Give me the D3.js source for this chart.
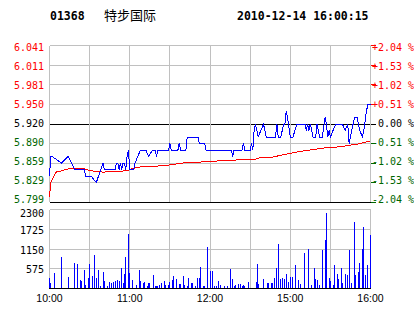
<!DOCTYPE html>
<html>
<head>
<meta charset="utf-8">
<script src="https://cdn.jsdelivr.net/npm/d3@7"></script>
<style>
	body { margin: 0; background: #fff; }
	svg text { font-family: "DejaVu Sans Mono", monospace; font-size: 10px; }
</style>
</head>
<body>
<svg id="chartSvg" width="414" height="314"></svg>
<script>
'use strict';

var stockCode = '01368'
var stockName = '特步国际'
var stamp = '2010-12-14 16:00:15'
var preClose = 5.920

var priceLabels = ['6.041', '6.011', '5.981', '5.950', '5.920', '5.890', '5.859', '5.829', '5.799']
var pctLabels = ['+2.04 %', '+1.53 %', '+1.02 %', '+0.51 %', ' 0.00 %', '-0.51 %', '-1.02 %', '-1.53 %', '-2.04 %']
var volTicks = [2300, 1725, 1150, 575]
var timeLabels = ['10:00', '11:00', '12:00', '15:00', '16:00']
var timeLabelMin = [0, 60, 120, 180, 240]

// [minute, price]
var pricePts = [[0, 5.84], [1, 5.87], [2, 5.87], [9, 5.86], [14, 5.87], [19, 5.85], [26, 5.85], [27, 5.84], [31, 5.84],
	[35, 5.83], [40, 5.86], [41, 5.85], [49, 5.85], [50, 5.86], [51, 5.86], [52, 5.85], [53, 5.86], [54, 5.85], [55, 5.86],
	[56, 5.86], [57, 5.85], [58, 5.87], [59, 5.88], [60, 5.85], [63, 5.85], [64, 5.86], [68, 5.88], [72, 5.88], [74, 5.87],
	[77, 5.88], [79, 5.88], [80, 5.87], [81, 5.88], [89, 5.88], [90, 5.89], [91, 5.88], [96, 5.88], [97, 5.89], [98, 5.88],
	[102, 5.88], [103, 5.90], [111, 5.90], [112, 5.89], [116, 5.89], [117, 5.88], [136, 5.88], [137, 5.87], [138, 5.88],
	[144, 5.88], [145, 5.89], [146, 5.88], [150, 5.88], [151, 5.89], [152, 5.88], [153, 5.91], [154, 5.92], [156, 5.90],
	[158, 5.91], [160, 5.92], [162, 5.90], [169, 5.90], [170, 5.92], [171, 5.90], [173, 5.90], [175, 5.92], [176, 5.92],
	[177, 5.94], [178, 5.93], [180, 5.90], [182, 5.90], [185, 5.92], [191, 5.92], [192, 5.91], [193, 5.92], [194, 5.91],
	[195, 5.92], [197, 5.90], [199, 5.90], [200, 5.92], [202, 5.90], [204, 5.90], [206, 5.93], [207, 5.92], [208, 5.90],
	[209, 5.91], [210, 5.90], [212, 5.91], [214, 5.92], [219, 5.92], [221, 5.91], [223, 5.92], [224, 5.89], [226, 5.91],
	[227, 5.92], [228, 5.93], [230, 5.93], [232, 5.91], [234, 5.90], [235, 5.91], [237, 5.94], [238, 5.95], [240, 5.95]]

// [minute, average price]
var avgPts = [[0, 5.808], [1, 5.83], [3, 5.839], [5, 5.846], [9, 5.848], [14, 5.851], [26, 5.851], [31, 5.848], [40, 5.846],
	[49, 5.847], [58, 5.848], [61, 5.851], [68, 5.854], [79, 5.855], [90, 5.857], [100, 5.86], [117, 5.862], [133, 5.864],
	[154, 5.866], [157, 5.868], [165, 5.868], [173, 5.872], [188, 5.878], [205, 5.883], [217, 5.885], [230, 5.889],
	[238, 5.893], [240, 5.894]]

// [minute, volume]
var volPts = [[0, 310], [1, 165], [4, 456], [9, 922], [14, 330], [19, 747], [21, 718], [23, 243], [24, 223], [26, 534],
	[27, 107], [29, 310], [30, 718], [32, 369], [34, 970], [35, 310], [37, 534], [38, 78], [40, 485], [41, 223], [43, 78],
	[45, 194], [46, 165], [48, 175], [49, 214], [51, 243], [52, 223], [54, 592], [55, 165], [56, 417], [57, 912], [59, 1582],
	[60, 456], [62, 243], [65, 97], [67, 534], [68, 214], [70, 155], [71, 184], [73, 68], [74, 146], [75, 146], [78, 388],
	[79, 68], [80, 68], [81, 87], [82, 107], [84, 155], [86, 214], [87, 97], [89, 97], [90, 194], [92, 243], [93, 359],
	[95, 272], [97, 126], [98, 126], [100, 359], [101, 97], [103, 68], [104, 301], [106, 146], [107, 165], [109, 87],
	[111, 301], [112, 310], [113, 621], [115, 68], [116, 68], [118, 1203], [120, 505], [122, 505], [123, 68], [125, 68],
	[126, 214], [128, 97], [131, 68], [133, 68], [135, 563], [137, 272], [138, 78], [139, 97], [141, 126], [143, 126],
	[144, 68], [145, 97], [146, 68], [149, 184], [155, 184], [155.5, 718], [156, 126], [160, 272], [163, 146], [164, 165],
	[166, 165], [167, 146], [168, 301], [169.5, 592], [171, 1300], [173, 281], [174, 301], [176, 272], [177, 417],
	[179, 194], [180, 330], [182, 330], [184, 679], [186, 243], [188, 126], [191, 1029], [194, 1145], [196, 97], [198, 592],
	[199, 272], [200, 243], [202, 97], [204, 1116], [206, 1407], [207, 2193], [209, 301], [210, 223], [212, 97], [213, 679],
	[215, 417], [216, 272], [218, 592], [219, 165], [221, 417], [223, 388], [224, 1116], [226, 165], [228, 1931], [229, 388],
	[231, 485], [232, 738], [234, 1145], [235, 1785], [236, 388], [238, 679], [240, 1553]]

var svg = d3.select('#chartSvg')
var gridColor = '#c0c0c0', upColor = '#ff0000', downColor = '#006600'

var x = d3.scaleLinear().domain([0, 240]).range([49.5, 370.5])
var y = d3.scaleLinear().domain([preClose * (1 - 0.0204), preClose * (1 + 0.0204)]).range([202.5, 45.5])
var yLab = d3.scaleLinear().domain([8, 0]).range([199.5, 47.5])
var yv = d3.scaleLinear().domain([0, 2300]).range([288.5, 209.5])

function px(v) { return Math.floor(v) + 0.5 }
function levelColor(i) { return i < 4 ? upColor : (i == 4 ? '#000' : downColor) }

// header
svg.append('text').attr('x', 50).attr('y', 20).style('font-size', '11.5px').style('font-weight', 'bold').text(stockCode)
svg.append('text').attr('x', 104).attr('y', 20).style('font-family', '"Noto Sans CJK SC"').style('font-size', '13px').text(stockName)
svg.append('text').attr('x', 237).attr('y', 20).style('font-size', '11.5px').style('font-weight', 'bold').text(stamp)

var grid = svg.append('g').attr('shape-rendering', 'crispEdges')

// price panel grid
var levels = d3.range(9)
grid.selectAll('.hl').data(levels).enter().append('line')
	.attr('x1', 49.5).attr('x2', function(d) { return 370.5 + 5 })
	.attr('y1', function(d) { return px(y(preClose * (1 + (4 - d) * 0.0051))) })
	.attr('y2', function(d) { return px(y(preClose * (1 + (4 - d) * 0.0051))) })
	.attr('stroke', function(d) { return d == 4 || d == 8 ? '#000' : gridColor })
grid.selectAll('.rt').data(levels).enter().append('line')
	.attr('x1', 371).attr('x2', 375.5)
	.attr('y1', function(d) { return px(y(preClose * (1 + (4 - d) * 0.0051))) })
	.attr('y2', function(d) { return px(y(preClose * (1 + (4 - d) * 0.0051))) })
	.attr('stroke', levelColor)
grid.selectAll('.vl').data(d3.range(0, 241, 30)).enter().append('line')
	.attr('x1', function(d) { return px(x(d)) }).attr('x2', function(d) { return px(x(d)) })
	.attr('y1', 45.5).attr('y2', 202)
	.attr('stroke', gridColor)

svg.selectAll('.pl').data(priceLabels).enter().append('text')
	.attr('x', 44).attr('y', function(d, i) { return yLab(i) }).attr('dy', '0.35em')
	.attr('text-anchor', 'end').attr('fill', function(d, i) { return levelColor(i) }).text(function(d) { return d })
svg.selectAll('.pc').data(pctLabels).enter().append('text')
	.attr('x', 372).attr('y', function(d, i) { return yLab(i) }).attr('dy', '0.35em')
	.attr('fill', function(d, i) { return levelColor(i) }).text(function(d) { return d }).style('white-space', 'pre')

// volume panel grid
grid.selectAll('.vh').data([2300, 1725, 1150, 575]).enter().append('line')
	.attr('x1', 49.5).attr('x2', 370.5)
	.attr('y1', function(d) { return px(yv(d)) }).attr('y2', function(d) { return px(yv(d)) })
	.attr('stroke', gridColor)
grid.selectAll('.vv').data(d3.range(0, 241, 30)).enter().append('line')
	.attr('x1', function(d) { return px(x(d)) }).attr('x2', function(d) { return px(x(d)) })
	.attr('y1', 209.5).attr('y2', 288)
	.attr('stroke', gridColor)

svg.selectAll('.vt').data(volTicks).enter().append('text')
	.attr('x', 44).attr('y', function(d, i) { return i == 0 ? yv(d) + 4 : yv(d) + 1 }).attr('dy', '0.35em')
	.attr('text-anchor', 'end').text(function(d) { return d })
svg.selectAll('.tl').data(timeLabels).enter().append('text')
	.attr('x', function(d, i) { return x(timeLabelMin[i]) }).attr('y', 302)
	.attr('text-anchor', 'middle').style('font-family', '"Liberation Sans", Arial, sans-serif').style('font-size', '10.5px')
	.text(function(d) { return d })

// volume bars
svg.append('g').attr('shape-rendering', 'crispEdges').selectAll('rect').data(volPts).enter().append('rect')
	.attr('x', function(d) { return Math.floor(x(d[0])) }).attr('width', 1)
	.attr('y', function(d) { return Math.round(yv(d[1])) }).attr('height', function(d) { return 288 - Math.round(yv(d[1])) })
	.attr('fill', '#0000ff')
svg.append('line').attr('x1', 49).attr('x2', 371).attr('y1', 288.5).attr('y2', 288.5).attr('stroke', '#000').attr('shape-rendering', 'crispEdges')

// price & average lines
var line = d3.line().x(function(d) { return x(d[0]) }).y(function(d) { return y(d[1]) })
svg.append('path').attr('d', line(avgPts)).attr('fill', 'none').attr('stroke', '#ff0000').attr('stroke-width', 1).attr('shape-rendering', 'crispEdges')
svg.append('path').attr('d', line(pricePts)).attr('fill', 'none').attr('stroke', '#0000ff').attr('stroke-width', 1).attr('shape-rendering', 'crispEdges')
</script>
</body>
</html>
